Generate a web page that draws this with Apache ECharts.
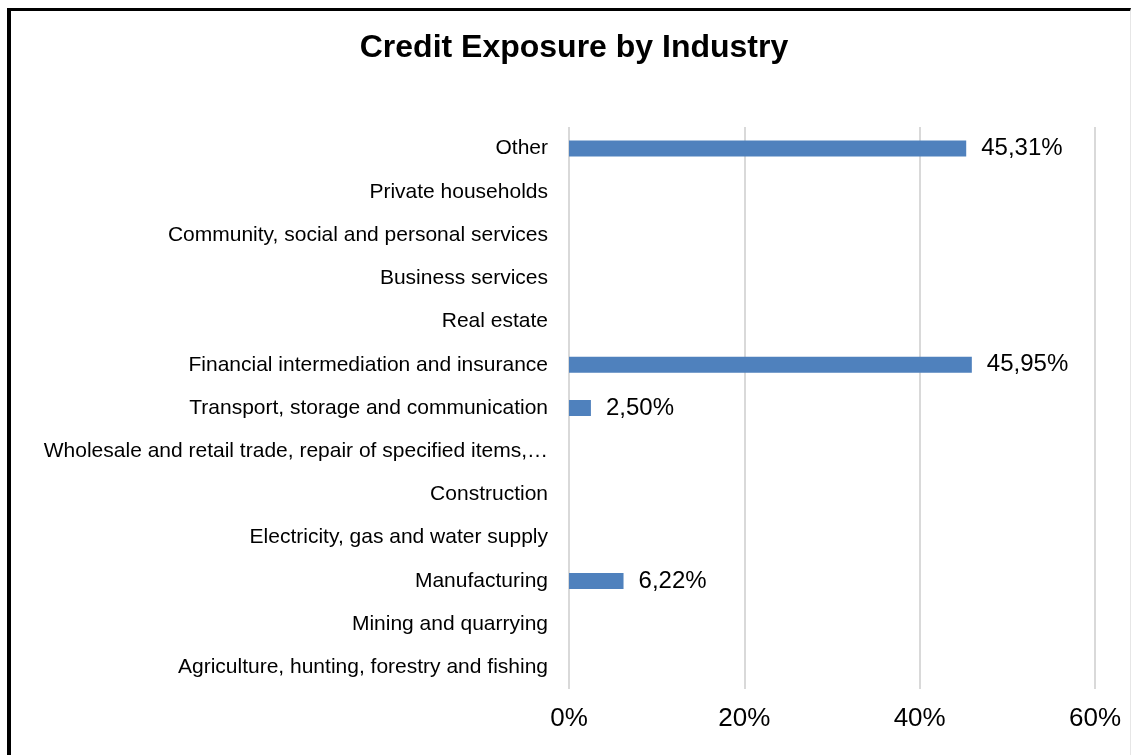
<!DOCTYPE html>
<html>
<head>
<meta charset="utf-8">
<title>Credit Exposure by Industry</title>
<script src="https://cdn.jsdelivr.net/npm/echarts@6/dist/echarts.min.js"></script>
<style>
  html, body { margin: 0; padding: 0; background: #fff; }
  #frame {
    position: absolute; left: 7px; top: 8px; width: 1124px; height: 760px;
    border-top: 3px solid #000; border-left: 4px solid #000; border-right: 1px solid #e6e6e6;
    box-sizing: border-box; pointer-events: none; z-index: 2;
  }
  #chart { position: absolute; left: 0; top: 0; width: 1135px; height: 755px; }
</style>
</head>
<body>
<div id="chart"></div>
<div id="frame"></div>
<script>
// Industries, listed bottom to top on the category axis
const industries = [
  'Agriculture, hunting, forestry and fishing',
  'Mining and quarrying',
  'Manufacturing',
  'Electricity, gas and water supply',
  'Construction',
  'Wholesale and retail trade, repair of specified items,\u2026',
  'Transport, storage and communication',
  'Financial intermediation and insurance',
  'Real estate',
  'Business services',
  'Community, social and personal services',
  'Private households',
  'Other'
];

// Share of credit exposure, in percent
const exposure = [0, 0, 6.22, 0, 0, 0, 2.50, 45.95, 0, 0, 0, 0, 45.31];

const axisTicks = [0, 20, 40, 60];

const fmtPct = v => v.toFixed(2).replace('.', ',') + '%';

const FONT = '"Liberation Sans", Arial, sans-serif';

const chart = echarts.init(document.getElementById('chart'), null, { renderer: 'canvas' });
chart.setOption({
  backgroundColor: '#fff',
  animation: false,
  textStyle: { fontFamily: FONT },
  title: {
    text: 'Credit Exposure by Industry',
    left: 569,
    top: 27,
    textAlign: 'center',
    textStyle: { fontSize: 32, fontWeight: 'bold', color: '#000', fontFamily: FONT }
  },
  grid: { left: 569, right: 40, top: 127, bottom: 66, containLabel: false },
  xAxis: {
    type: 'value',
    min: axisTicks[0],
    max: axisTicks[axisTicks.length - 1],
    interval: 20,
    axisLine: { show: false },
    axisTick: { show: false },
    splitLine: { show: true, lineStyle: { color: '#d9d9d9', width: 2 } },
    axisLabel: {
      margin: 17,
      fontSize: 26,
      color: '#000',
      formatter: v => v + '%'
    }
  },
  yAxis: {
    type: 'category',
    data: industries,
    axisLine: { show: false },
    axisTick: { show: false },
    axisLabel: { margin: 21, fontSize: 21, color: '#000' }
  },
  series: [{
    type: 'bar',
    data: exposure,
    barWidth: 16,
    itemStyle: { color: '#4f81bd' },
    label: {
      show: true,
      position: 'right',
      distance: 15,
      fontSize: 24,
      color: '#000',
      formatter: p => (p.value > 0 ? fmtPct(p.value) : '')
    }
  }]
});
</script>
</body>
</html>
